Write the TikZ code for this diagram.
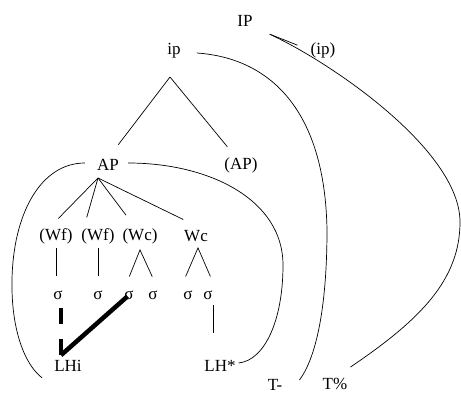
\documentclass[tikz,border=0pt]{standalone}
\usepackage{fontspec}
\setmainfont{Liberation Serif}
\usetikzlibrary{positioning}

\begin{document}
\begin{tikzpicture}[x=1pt,y=-1pt,
  font=\fontsize{17}{20}\selectfont,
  every node/.style={inner sep=1pt},
  edge/.style={line width=0.7pt},
  link/.style={line width=4.5pt},
  syl/.style={minimum height=20pt}]
  \useasboundingbox (0,0) rectangle (461,394);
  % phrases
  \node (IP) at (245,21) {IP};
  \node (ip) at (174,51) {ip};
  \node (ipopt) at (323,50) {(ip)};
  \node (AP) at (108,165) {AP};
  \node (APopt) at (241,165) {(AP)};
  % words
  \node (wfa) at (56,236) {(Wf)};
  \node (wfb) at (98,236) {(Wf)};
  \node (wca) at (140,236) {(Wc)};
  \node (wcb) at (196,236) {Wc};
  % syllables
  \node[syl] (sa) at (58,295) {σ};
  \node[syl] (sb) at (98,295) {σ};
  \node[syl] (sc) at (129,295) {σ};
  \node[syl] (sd) at (153,295) {σ};
  \node[syl] (se) at (188,295) {σ};
  \node[syl] (sf) at (208,295) {σ};
  % tones
  \node (LHi) at (68,366) {LHi};
  \node (LHstar) at (220,366) {LH*};
  \node (Tminus) at (275,385) {T-};
  \node (Tpct) at (335,384) {T\%};

  % tree
  \draw[edge, shorten <=17pt, shorten >=13pt] (IP.south east) -- (ipopt.west);
  \coordinate (ipfork) at (170,77);
  \draw[edge, shorten >=17pt] (ipfork) -- (AP.north);
  \draw[edge, shorten >=12pt] (ipfork) -- ([xshift=-6pt]APopt.north);
  \coordinate (apfork) at (98,178);
  \draw[edge, shorten >=12pt] (apfork) -- ([xshift=-6pt]wfa.north);
  \draw[edge, shorten >=10pt] (apfork) -- ([xshift=-14pt]wfb.north);
  \draw[edge, shorten >=15pt] (apfork) -- ([xshift=-5pt]wca.north);
  \draw[edge, shorten >=22pt] (apfork) -- ([xshift=7pt]wcb.north);
  \draw[edge, shorten <=3.5pt, shorten >=9pt] (wfa.south) -- (wfa.south |- sa.north);
  \draw[edge, shorten <=3.5pt, shorten >=9pt] (wfb.south) -- (wfb.south |- sb.north);
  \draw[edge, shorten <=9pt, shorten >=9pt] ([xshift=-3pt]sc.north)
    -- ([yshift=-5pt]wca.south) -- ([xshift=3pt]sd.north);
  \draw[edge, shorten <=9pt, shorten >=9pt] ([xshift=-6pt]se.north)
    -- ([xshift=2pt,yshift=-5pt]wcb.south) -- ([xshift=6pt]sf.north);
  \draw[edge, shorten >=26pt] ([xshift=5pt]sf.south) -- ([xshift=5pt]sf.south |- LHstar.north);

  % association of LHi
  \coordinate (lhitip) at ([xshift=-7pt,yshift=4pt]LHi.north);
  \draw[link, dash pattern=on 16pt off 15pt] (lhitip) -- (lhitip |- sa.south);
  \draw[link, shorten <=2pt] (sc.center) -- (lhitip);

  % domains of the edge tones
  \draw[edge] ([xshift=-11pt,yshift=2pt]AP.west) .. controls (40,163) and (13,215) .. (12,280)
    .. controls (11,330) and (25,365) .. ([xshift=-11pt,yshift=-5pt]LHi.south west);
  \draw[edge] ([xshift=8pt,yshift=2pt]AP.east) .. controls (210,163) and (283,200) .. (283,265)
    .. controls (283,320) and (265,360) .. ([xshift=2pt,yshift=3pt]LHstar.east);
  \draw[edge] ([xshift=15pt,yshift=-2pt]ip.east) .. controls (270,58) and (325,110) .. (327,230)
    .. controls (327,300) and (318,355) .. ([xshift=16pt,yshift=5pt]Tminus.east);
  \draw[edge] ([xshift=17pt,yshift=-7pt]IP.south east) .. controls (330,62) and (460,150) .. (460,222)
    .. controls (460,280) and (420,320) .. ([xshift=2pt,yshift=10pt]Tpct.north east);
\end{tikzpicture}
\end{document}
